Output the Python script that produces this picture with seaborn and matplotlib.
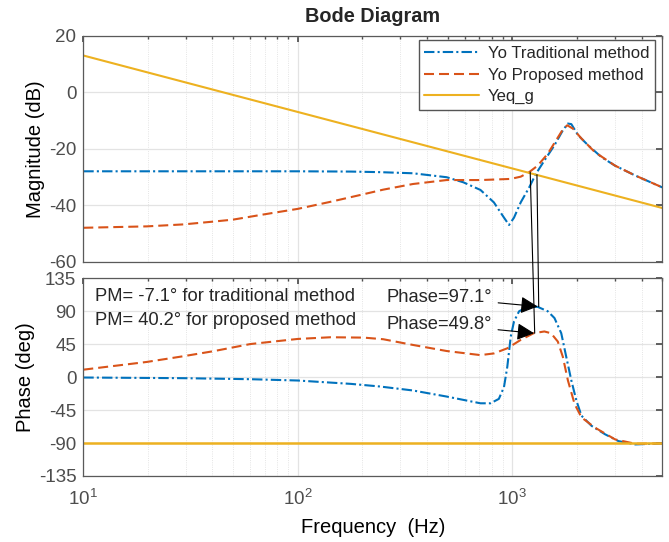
import numpy as np
import pandas as pd
import matplotlib
matplotlib.use('Agg')
import matplotlib.pyplot as plt
from matplotlib.patches import ConnectionPatch
from matplotlib.ticker import LogLocator, NullFormatter
import seaborn as sns

sns.set_theme(style='white')
plt.rcParams['font.family'] = ['Liberation Sans', 'DejaVu Sans']
plt.rcParams['mathtext.default'] = 'regular'
plt.rcParams['axes.unicode_minus'] = False

# ---- data ----
# Yo, traditional method
trad_mag_f = [10, 50, 100, 177, 240, 344, 494, 591, 710, 820, 914, 965, 1018,
              1094, 1198, 1288, 1410, 1571, 1719, 1815, 1883, 2024, 2255, 2604,
              3010, 3741, 5000]
trad_mag_db = [-28.0, -28.0, -28.0, -28.1, -28.3, -28.7, -30.1, -31.9, -34.6,
               -39.0, -44.4, -47.0, -44.4, -39.0, -33.7, -28.9, -24.2, -18.8,
               -13.5, -11.1, -11.3, -15.2, -18.8, -23.0, -26.0, -29.5, -33.7]

trad_ph_f = [10, 29.3, 60, 100, 177, 240, 344, 494, 710, 791, 865, 914, 947,
             983, 1018, 1075, 1177, 1312, 1462, 1571, 1690, 1783, 1883, 1988,
             2100, 2339, 2703, 3120, 3741, 5000]
trad_ph_deg = [-0.5, -1.4, -2.8, -4.6, -9.2, -12.7, -18.2, -26.5, -35.7, -35.7,
               -29.7, -13.6, 14.0, 55.5, 76.2, 90.0, 96.0, 96.0, 90.0, 80.8,
               60.0, 27.8, -4.4, -32.0, -52.7, -66.5, -78.0, -87.3, -91.9, -90.5]

# Yo, proposed method
prop_mag_f = [10, 19.8, 29.3, 40.5, 50, 69, 100, 142, 203, 250, 344, 494, 710,
              982, 1094, 1198, 1312, 1462, 1600, 1719, 1803, 1915, 2100, 2423,
              3010, 3741, 5000]
prop_mag_db = [-48.0, -47.5, -46.8, -45.8, -45.1, -43.3, -41.3, -38.8, -36.1,
               -34.5, -32.5, -31.1, -31.1, -30.7, -29.9, -28.3, -26.0, -21.8,
               -17.0, -13.2, -11.7, -12.9, -16.4, -21.2, -26.0, -29.5, -33.7]

prop_ph_f = [10, 19.8, 29.3, 40.5, 60, 100, 142, 203, 250, 344, 494, 710, 820,
             947, 1094, 1256, 1410, 1514, 1629, 1719, 1815, 1950, 2100, 2423,
             3010, 3741, 5000]
prop_ph_deg = [10.2, 20.8, 28.6, 35.5, 45.2, 52.2, 54.5, 54.0, 51.8, 44.0, 35.7,
               30.1, 32.4, 39.4, 50.9, 60.0, 62.4, 60.0, 48.6, 27.8, -4.4, -36.6,
               -55.0, -68.8, -85.0, -91.0, -90.5]

# Yeq_g
yeq_f = [10, 100, 1000, 5000]
yeq_db = [13.0, -7.0, -27.0, -41.0]
yeq_ph = [-90.0, -90.0, -90.0, -90.0]

# crossover markers (top point -> phase point)
cross_f_top = [1211, 1302]
cross_db = [-28.3, -29.2]
cross_f_bot = [1271, 1327]
cross_deg = [60.0, 96.2]

blue = '#0072BD'
orange = '#D95319'
yellow = '#EDB120'
tick_col = '#4d4d4d'

fig = plt.figure(figsize=(6.69, 5.42), dpi=100)
ax1 = fig.add_axes([0.1245, 0.5172, 0.8655, 0.4169])
ax2 = fig.add_axes([0.1245, 0.1218, 0.8655, 0.3647])

dash_dot = (0, (5, 1.5, 1, 1.5))
dashed = (0, (4.8, 2.4))

sns.lineplot(x=trad_mag_f, y=trad_mag_db, ax=ax1, color=blue, lw=1.5,
             linestyle=dash_dot, label='Yo Traditional method')
sns.lineplot(x=prop_mag_f, y=prop_mag_db, ax=ax1, color=orange, lw=1.5,
             linestyle=dashed, label='Yo Proposed method')
sns.lineplot(x=yeq_f, y=yeq_db, ax=ax1, color=yellow, lw=1.5,
             label='Yeq_g')

sns.lineplot(x=trad_ph_f, y=trad_ph_deg, ax=ax2, color=blue, lw=1.5,
             linestyle=dash_dot)
sns.lineplot(x=prop_ph_f, y=prop_ph_deg, ax=ax2, color=orange, lw=1.5,
             linestyle=dashed)
sns.lineplot(x=yeq_f, y=yeq_ph, ax=ax2, color=yellow, lw=1.8)

for ax in (ax1, ax2):
    ax.set_xscale('log')
    ax.set_xlim(10, 5000)
    ax.xaxis.set_major_locator(LogLocator(base=10))
    ax.xaxis.set_minor_locator(LogLocator(base=10, subs=np.arange(2, 10)))
    ax.xaxis.set_minor_formatter(NullFormatter())
    ax.grid(True, which='major', color='#e3e3e3', lw=0.9)
    ax.grid(True, which='minor', axis='x', color='#dcdcdc', lw=0.6, ls=':')
    ax.tick_params(which='both', direction='in', top=True, right=True,
                   colors=tick_col, labelsize=13.5, pad=5)
    ax.tick_params(which='major', length=4)
    ax.tick_params(which='minor', length=2.5)
    for sp in ax.spines.values():
        sp.set_color('#5a5a5a')
        sp.set_linewidth(0.9)
    ax.set_axisbelow(True)

ax1.set_ylim(-60, 20)
ax1.set_yticks([-60, -40, -20, 0, 20])
ax1.tick_params(labelbottom=False)
ax1.set_ylabel('Magnitude (dB)', fontsize=14.5, color='black', labelpad=3)
ax1.set_xlabel('')
ax1.set_title('Bode Diagram', fontsize=14.3, fontweight='bold', pad=10)

ax2.set_ylim(-135, 135)
ax2.set_yticks([-135, -90, -45, 0, 45, 90, 135])
ax2.set_ylabel('Phase (deg)', fontsize=14.5, color='black', labelpad=3)
ax2.set_xlabel('Frequency  (Hz)', fontsize=14.5, color='black', labelpad=7)
ax2.tick_params(axis='x', pad=9)

leg = ax1.legend(loc='upper right', bbox_to_anchor=(0.9874, 0.981),
                 borderaxespad=0, fontsize=12, handlelength=3.3,
                 handletextpad=0.5, labelspacing=0.4, borderpad=0.35,
                 fancybox=False, framealpha=1, edgecolor='#555555')
leg.get_frame().set_linewidth(1.0)

# crossover connectors
for ft, db, fb, dg in zip(cross_f_top, cross_db, cross_f_bot, cross_deg):
    con = ConnectionPatch(xyA=(ft, db), coordsA=ax1.transData,
                          xyB=(fb, dg), coordsB=ax2.transData,
                          color='black', lw=0.8)
    fig.add_artist(con)

# annotations
ax2.text(11.4, 110, 'PM= -7.1° for traditional method', fontsize=13.2,
         va='center', ha='left')
ax2.text(11.4, 78, 'PM= 40.2° for proposed method', fontsize=13.2,
         va='center', ha='left')
arrow = dict(arrowstyle='-|>', mutation_scale=26, color='black', lw=0.8,
             shrinkA=2, shrinkB=0)
ax2.annotate('Phase=97.1°', xy=(1312, 96.5), xytext=(259, 109),
             fontsize=13.2, va='center', ha='left', arrowprops=arrow)
ax2.annotate('Phase=49.8°', xy=(1262, 60), xytext=(259, 72.5),
             fontsize=13.2, va='center', ha='left', arrowprops=arrow)

fig.savefig('out.png', dpi=100)
